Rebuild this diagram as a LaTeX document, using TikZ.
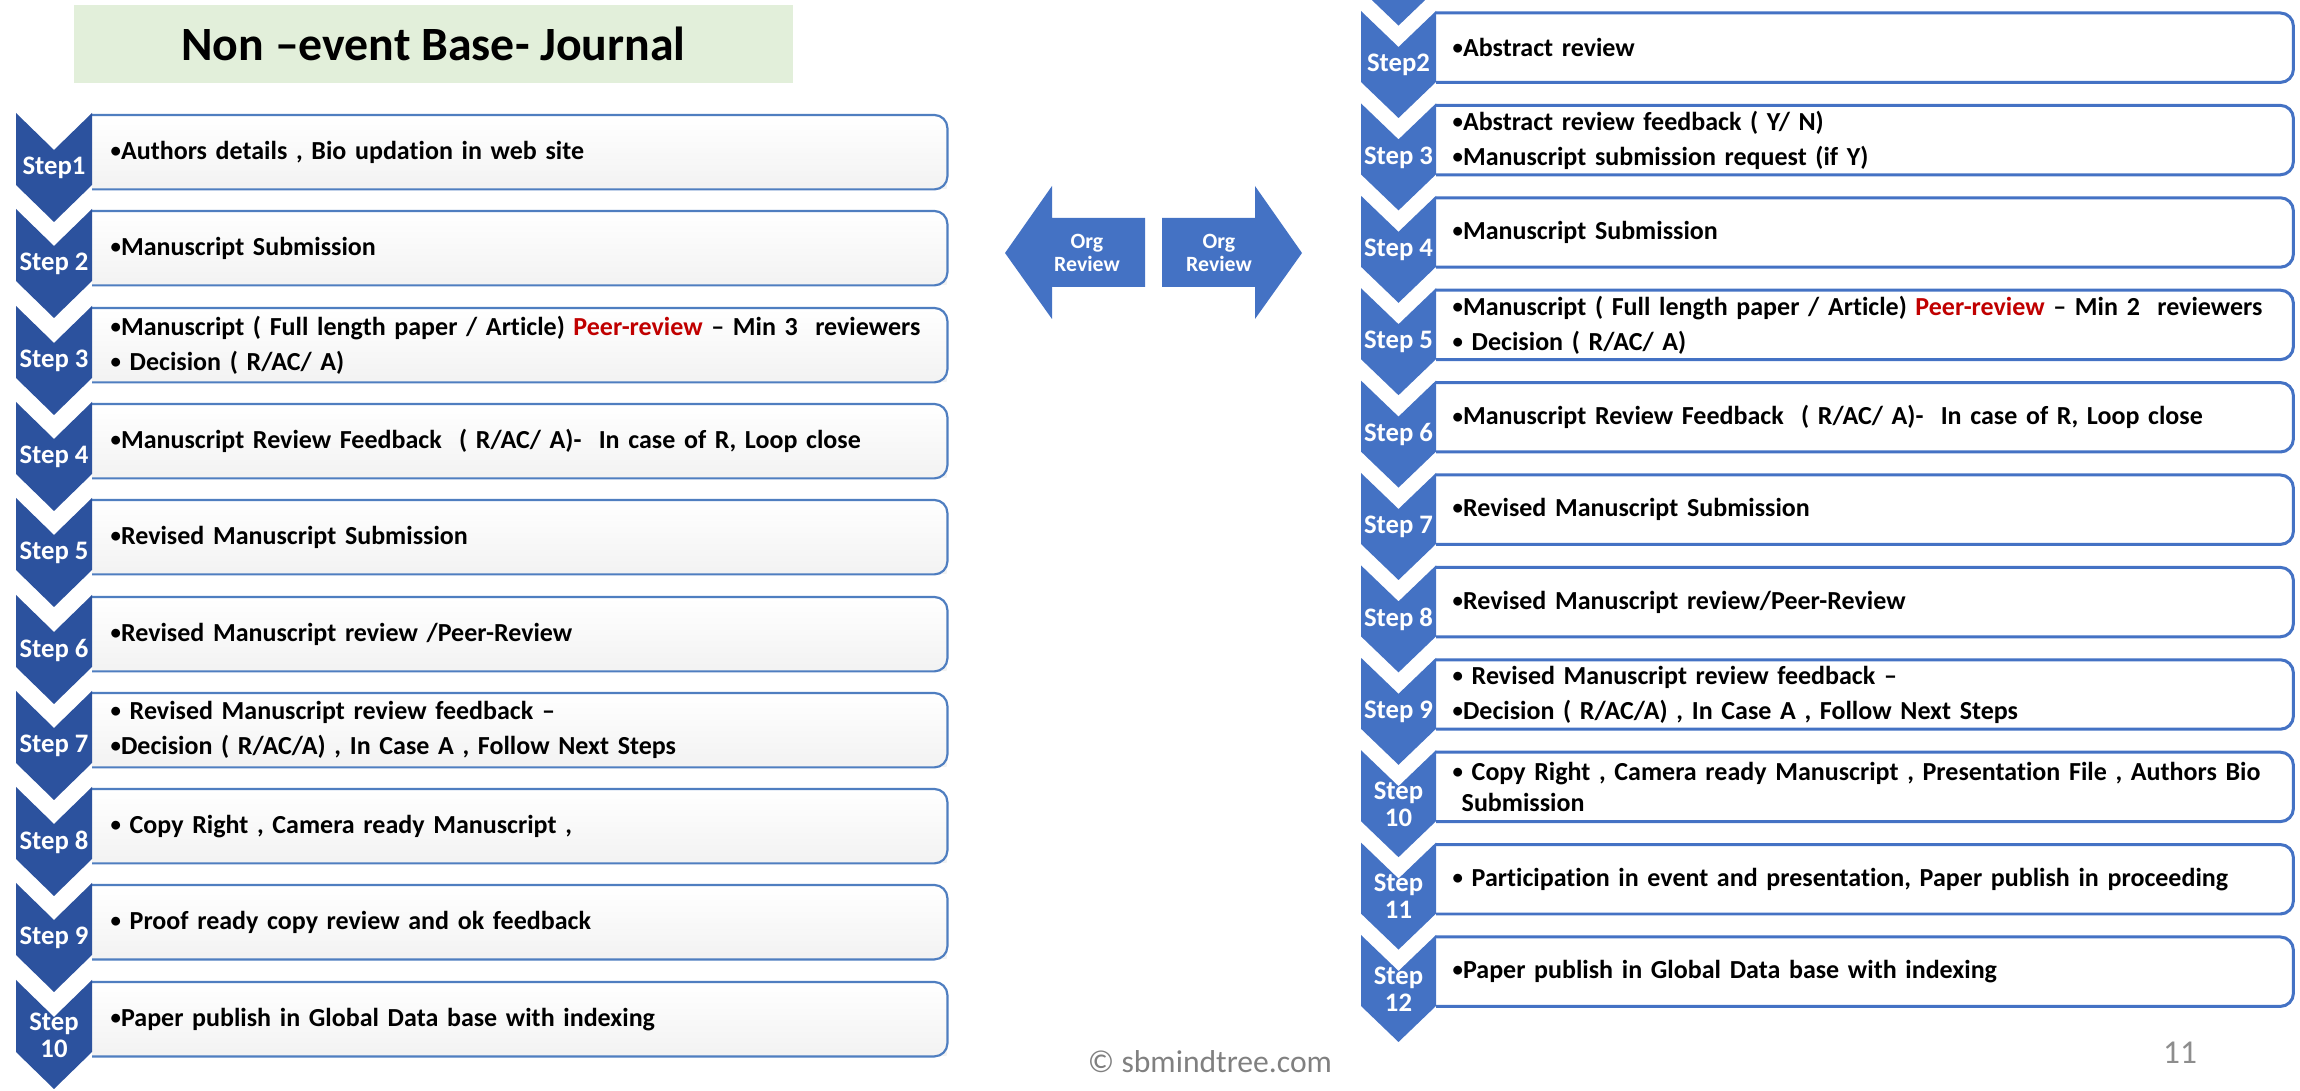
\documentclass[tikz,border=0pt]{standalone}
\usepackage{fontspec}
\setmainfont{Carlito}[Ligatures=NoCommon]
\definecolor{chevblue}{RGB}{68, 114, 196}
\definecolor{chevdark}{RGB}{44, 82, 158}
\definecolor{chevlight}{RGB}{118, 156, 226}
\definecolor{boxline}{RGB}{79, 126, 192}
\definecolor{titlegreen}{RGB}{226, 239, 218}
\definecolor{peerred}{RGB}{192, 0, 0}
\definecolor{footgray}{RGB}{128, 128, 128}
\usepackage{tikz}
\newcommand{\bul}{\raisebox{0.15ex}{\scalebox{0.8}{•}}}

\begin{document}
\begin{tikzpicture}[x=0.1mm, y=-0.1mm,
    bodytext/.style={font=\bfseries\fontsize{7.4}{10}\selectfont, align=left, inner ysep=0pt},
    lbox/.style={bodytext, anchor=north west, top color=white, bottom color=black!5,
                 minimum width=85.4mm, minimum height=7.3mm, text width=81.8mm, inner xsep=1.8mm},
    rbox/.style={bodytext, anchor=north west, fill=white,
                 minimum width=85.6mm, minimum height=6.8mm, text width=82.4mm, inner xsep=1.6mm},
    lline/.style={draw=boxline, line width=0.22mm, rounded corners=1.3mm},
    rline/.style={draw=chevblue, line width=0.3mm, rounded corners=1.3mm},
    steplabel/.style={text=white, font=\bfseries\fontsize{7.6}{7.6}\selectfont,
                      align=center, inner sep=0pt},
    orglabel/.style={text=white, font=\bfseries\fontsize{6.2}{6.6}\selectfont,
                     align=center, inner sep=0pt}]
  \useasboundingbox (0,0) rectangle (2300,1091);
  \clip (0,0) rectangle (2300,1091);

  % title
  \node[fill=titlegreen, minimum width=71.9mm, minimum height=7.8mm, inner sep=0pt,
        font=\bfseries\fontsize{13.6}{15}\selectfont] (title) at (433.5,44)
        {Non –event Base- Journal};

  % left column: non-event journal
  \node[lbox] (l1) at (92,115) {\bul Authors details , Bio updation in web site};
  \node[lbox] (l2) at (92,211) {\bul Manuscript Submission};
  \node[lbox] (l3) at (92,308) {\bul Manuscript ( Full length paper / Article) {\color{peerred}Peer-review} – Min 3\ \ reviewers\\
                                 \bul{} Decision ( R/AC/ A)};
  \node[lbox] (l4) at (92,404) {\bul Manuscript Review Feedback\ \ ( R/AC/ A)-\ \ In case of R, Loop close};
  \node[lbox] (l5) at (92,500) {\bul Revised Manuscript Submission};
  \node[lbox] (l6) at (92,597) {\bul Revised Manuscript review /Peer-Review};
  \node[lbox] (l7) at (92,693) {\bul{} Revised Manuscript review feedback –\\
                                 \bul Decision ( R/AC/A) , In Case A , Follow Next Steps};
  \node[lbox] (l8) at (92,789) {\bul{} Copy Right , Camera ready Manuscript ,};
  \node[lbox] (l9) at (92,885) {\bul{} Proof ready copy review and ok feedback};
  \node[lbox] (l10) at (92,982) {\bul Paper publish in Global Data base with indexing};
  \foreach \n in {1,...,10}
    \draw[lline] (l\n.north west) -- (l\n.north east) -- (l\n.south east) -- (l\n.south west);

  \foreach \t/\lab/\n in {115/Step1/1, 211/Step 2/2, 308/Step 3/3, 404/Step 4/4, 500/Step 5/5,
                          597/Step 6/6, 693/Step 7/7, 789/Step 8/8, 885/Step 9/9, 982/Step\\10/10} {
    \shade[left color=chevdark, middle color=chevlight, right color=chevdark]
      (16,\t-2) -- (54,\t+35) -- (92,\t-2) -- (92,\t+70) -- (54,\t+107) -- (16,\t+70) -- cycle;
    \node[steplabel] (ls\n) at (54,\t+53) {\lab};
  }

  % org review arrows
  \fill[chevblue] (1145,218) -- (1052,218) -- (1052,186) -- (1005,253) -- (1052,319)
                  -- (1052,287) -- (1145,287) -- cycle;
  \fill[chevblue] (1162,218) -- (1255,218) -- (1255,186) -- (1302,253) -- (1255,319)
                  -- (1255,287) -- (1162,287) -- cycle;
  \node[orglabel] (orgl) at (1087,253) {Org\\Review};
  \node[orglabel] (orgr) at (1219,253) {Org\\Review};

  % right column: event based
  \node[rbox] (r2) at (1436,13) {\bul Abstract review};
  \node[rbox] (r3) at (1436,105.4) {\bul Abstract review feedback ( Y/ N)\\
                                    \bul Manuscript submission request (if Y)};
  \node[rbox] (r4) at (1436,197.8) {\bul Manuscript Submission};
  \node[rbox] (r5) at (1436,290.2) {\bul Manuscript ( Full length paper / Article) {\color{peerred}Peer-review} – Min 2\ \ reviewers\\
                                    \bul{} Decision ( R/AC/ A)};
  \node[rbox] (r6) at (1436,382.6) {\bul Manuscript Review Feedback\ \ ( R/AC/ A)-\ \ In case of R, Loop close};
  \node[rbox] (r7) at (1436,475) {\bul Revised Manuscript Submission};
  \node[rbox] (r8) at (1436,567.4) {\bul Revised Manuscript review/Peer-Review};
  \node[rbox] (r9) at (1436,659.8) {\bul{} Revised Manuscript review feedback –\\
                                    \bul Decision ( R/AC/A) , In Case A , Follow Next Steps};
  \node[rbox] (r10) at (1436,752.2) {\bul{} Copy Right , Camera ready Manuscript , Presentation File , Authors Bio\\[-1.4pt]
                                     \hspace*{0.9mm}Submission};
  \node[rbox] (r11) at (1436,844.6) {\bul{} Participation in event and presentation, Paper publish in proceeding};
  \node[rbox] (r12) at (1436,937) {\bul Paper publish in Global Data base with indexing};
  \foreach \n in {2,...,12}
    \draw[rline] (r\n.north west) -- (r\n.north east) -- (r\n.south east) -- (r\n.south west);

  \fill[chevblue] (1361,-81.4) -- (1436,-81.4) -- (1436,-10.4) -- (1398.5,25.6) -- (1361,-10.4) -- cycle;
  \foreach \t/\lab/\n in {13/Step2/2, 105.4/Step 3/3, 197.8/Step 4/4, 290.2/Step 5/5,
                          382.6/Step 6/6, 475/Step 7/7, 567.4/Step 8/8, 659.8/Step 9/9,
                          752.2/Step\\10/10, 844.6/Step\\11/11, 937/Step\\12/12} {
    \fill[chevblue]
      (1361,\t-2) -- (1398.5,\t+34) -- (1436,\t-2) -- (1436,\t+69) -- (1398.5,\t+105) -- (1361,\t+69) -- cycle;
    \node[steplabel] (rs\n) at (1398.5,\t+52) {\lab};
  }

  % footer
  \node[text=footgray, font=\fontsize{9}{10}\selectfont] (copy) at (1210,1062) {© sbmindtree.com};
  \node[text=footgray!90, font=\fontsize{9.5}{11}\selectfont] (page) at (2180,1053) {11};
\end{tikzpicture}
\end{document}
